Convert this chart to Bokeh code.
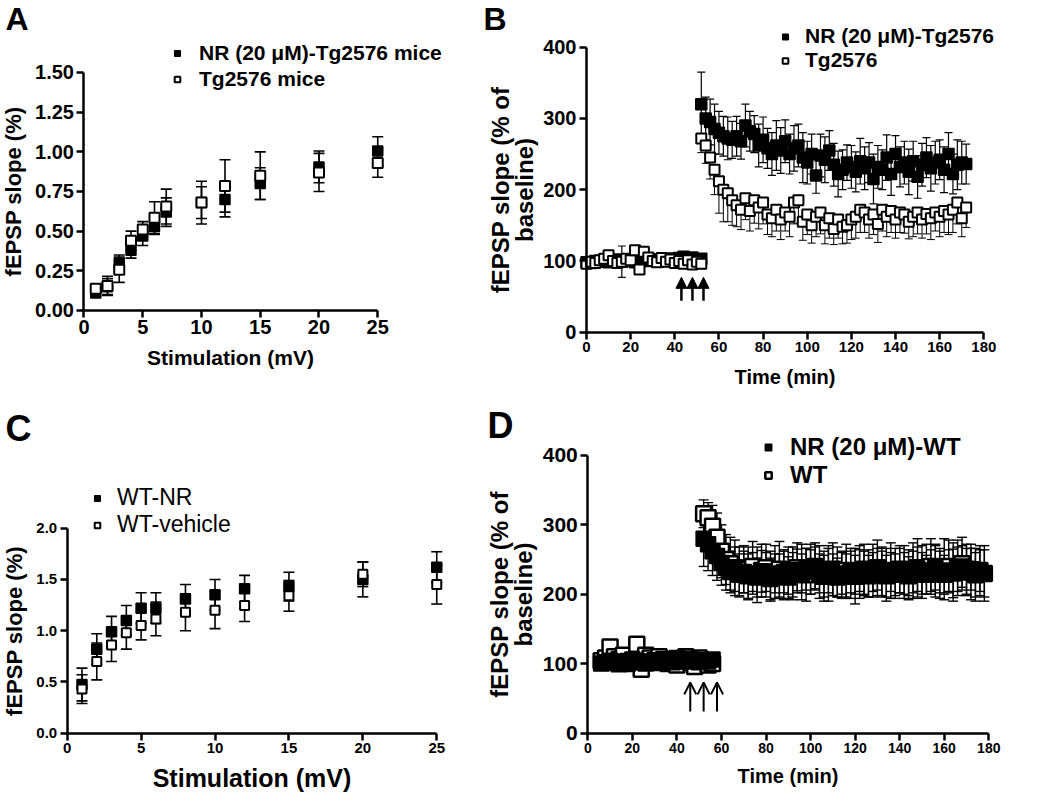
from bokeh.plotting import figure
from bokeh.models import (ColumnDataSource, Whisker, TeeHead, Legend, LegendItem,
                          FixedTicker, Range1d, Label, Arrow, NormalHead, OpenHead,
                          NumeralTickFormatter)
from bokeh.layouts import row, column
from bokeh.embed import file_html
from bokeh.resources import INLINE

FONT = "Liberation Sans"

# ---------------- Panel A data ----------------
stim_A = [1, 2, 3, 4, 5, 6, 7, 10, 12, 15, 20, 25]
A_nr = [0.11, 0.15, 0.30, 0.38, 0.47, 0.53, 0.62, 0.68, 0.70, 0.80, 0.905, 1.005]
A_nr_err = [0.02, 0.05, 0.05, 0.05, 0.06, 0.05, 0.09, 0.10, 0.11, 0.10, 0.10, 0.09]
A_tg = [0.137, 0.155, 0.257, 0.44, 0.51, 0.585, 0.655, 0.68, 0.785, 0.85, 0.87, 0.93]
A_tg_err = [0.02, 0.06, 0.08, 0.06, 0.05, 0.10, 0.11, 0.135, 0.165, 0.15, 0.12, 0.09]
A_xticks = [0, 5, 10, 15, 20, 25]
A_yticks = [0.0, 0.25, 0.5, 0.75, 1.0, 1.25, 1.5]

# ---------------- Panel C data ----------------
stim_C = [1, 2, 3, 4, 5, 6, 8, 10, 12, 15, 20, 25]
C_nr = [0.475, 0.82, 0.99, 1.10, 1.22, 1.22, 1.31, 1.35, 1.41, 1.43, 1.50, 1.62]
C_nr_err = [0.16, 0.15, 0.15, 0.145, 0.15, 0.15, 0.14, 0.15, 0.13, 0.14, 0.17, 0.15]
C_veh = [0.43, 0.70, 0.86, 0.98, 1.05, 1.115, 1.18, 1.20, 1.245, 1.34, 1.55, 1.45]
C_veh_err = [0.14, 0.18, 0.16, 0.16, 0.14, 0.165, 0.18, 0.18, 0.155, 0.15, 0.12, 0.19]
C_xticks = [0, 5, 10, 15, 20, 25]
C_yticks = [0.0, 0.5, 1.0, 1.5, 2.0]

# ---------------- Panel B data ----------------
tB_base = [0, 2, 4, 6, 8, 10, 12, 14, 16, 18, 20, 22, 24, 26, 28, 30, 32, 34, 36,
           38, 40, 42, 44, 46, 48, 50, 52]
B_nr_base = [98, 97, 100, 99, 101, 98, 100, 102, 99, 101, 100, 98, 99, 101, 100,
             102, 99, 101, 100, 103, 101, 104, 106, 102, 105, 101, 103]
B_nr_base_err = [6, 5, 7, 6, 5, 6, 8, 5, 22, 6, 5, 7, 6, 8, 5, 6, 7, 5, 6, 8, 6,
                 5, 7, 6, 5, 7, 6]
B_tg_base = [96, 99, 97, 101, 103, 108, 100, 97, 99, 103, 101, 115, 88, 113, 105,
             100, 98, 104, 99, 102, 97, 100, 96, 101, 95, 99, 96]
B_tg_base_err = [5, 6, 5, 7, 6, 5, 6, 7, 5, 6, 5, 7, 6, 5, 6, 7, 5, 6, 5, 7, 6,
                 5, 6, 7, 5, 6, 5]
tB_post = [52, 54, 56, 58, 60, 62, 64, 66, 68, 70, 72, 74, 76, 78, 80, 82, 84, 86,
           88, 90, 92, 94, 96, 98, 100, 102, 104, 106, 108, 110, 112, 114, 116, 118,
           120, 122, 124, 126, 128, 130, 132, 134, 136, 138, 140, 142, 144, 146, 148,
           150, 152, 154, 156, 158, 160, 162, 164, 166, 168, 170, 172]
B_nr_post = [320, 300, 295, 285, 280, 275, 272, 270, 275, 268, 290, 282, 278, 262,
             270, 258, 250, 262, 255, 268, 250, 258, 262, 245, 238, 250, 220, 248,
             242, 255, 235, 222, 228, 238, 232, 225, 240, 230, 238, 215, 232, 228,
             245, 222, 250, 232, 238, 225, 240, 218, 235, 245, 230, 238, 242, 228,
             250, 222, 235, 238, 236]
B_nr_post_err = [45, 30, 32, 35, 30, 28, 30, 26, 28, 25, 30, 28, 26, 30, 32, 28, 30,
                 35, 32, 30, 28, 32, 30, 35, 30, 28, 25, 30, 32, 28, 30, 32, 28, 25,
                 30, 28, 32, 30, 28, 35, 30, 28, 32, 30, 26, 28, 30, 32, 28, 30, 30,
                 28, 32, 30, 28, 32, 30, 28, 35, 30, 28]
B_tg_post = [272, 262, 245, 228, 212, 200, 195, 185, 178, 172, 188, 170, 185, 175,
             182, 165, 160, 172, 158, 168, 162, 182, 185, 155, 165, 150, 162, 168,
             150, 160, 145, 158, 148, 150, 158, 162, 172, 168, 158, 165, 152, 172,
             162, 170, 158, 168, 165, 155, 162, 168, 158, 166, 160, 168, 162, 170,
             165, 172, 182, 160, 175]
B_tg_post_err = [20, 25, 30, 35, 45, 45, 40, 35, 30, 28, 30, 28, 32, 30, 30, 28, 26,
                 30, 28, 26, 28, 30, 32, 26, 28, 25, 28, 30, 26, 28, 22, 26, 24, 25,
                 28, 30, 32, 28, 26, 28, 26, 30, 28, 30, 26, 28, 26, 24, 28, 30, 26,
                 28, 30, 26, 28, 30, 28, 32, 30, 26, 28]
B_arrow_times = [43, 48, 53]
B_arrow_span = [44, 77]

# ---------------- Panel D data ----------------
tD_base = [6, 8, 10, 12, 14, 16, 18, 20, 22, 24, 26, 28, 30, 32, 34, 36, 38, 40, 42,
           44, 46, 48, 50, 52, 54, 56]
D_nr_base = [100, 102, 104, 101, 99, 103, 100, 106, 104, 102, 100, 103, 105, 101,
             104, 106, 102, 108, 105, 103, 107, 104, 102, 105, 103, 106]
D_nr_base_err = [8, 9, 7, 8, 10, 8, 9, 7, 8, 9, 8, 7, 9, 8, 10, 8, 7, 9, 8, 9, 8, 7,
                 9, 8, 8, 9]
D_wt_base = [104, 108, 124, 110, 106, 112, 103, 100, 128, 92, 112, 108, 102, 110,
             106, 100, 104, 98, 106, 110, 102, 96, 108, 104, 98, 100]
D_wt_base_err = [9, 8, 10, 9, 8, 10, 9, 8, 10, 9, 8, 9, 10, 8, 9, 10, 8, 9, 10, 8,
                 9, 10, 8, 9, 10, 8]
tD_post = [52, 54, 56, 58, 60, 62, 64, 66, 68, 70, 72, 74, 76, 78, 80, 82, 84, 86,
           88, 90, 92, 94, 96, 98, 100, 102, 104, 106, 108, 110, 112, 114, 116, 118,
           120, 122, 124, 126, 128, 130, 132, 134, 136, 138, 140, 142, 144, 146, 148,
           150, 152, 154, 156, 158, 160, 162, 164, 166, 168, 170, 172, 174, 176, 178]
D_nr_post = [280, 272, 262, 255, 245, 238, 232, 236, 228, 232, 226, 230, 224, 233,
             228, 222, 230, 226, 232, 224, 228, 235, 230, 236, 232, 238, 230, 226,
             234, 228, 224, 230, 226, 232, 228, 234, 230, 226, 232, 236, 230, 226,
             232, 228, 234, 230, 226, 232, 236, 230, 228, 234, 238, 232, 228, 234,
             230, 236, 240, 232, 236, 228, 234, 230]
D_nr_post_err = [40, 38, 35, 35, 32, 32, 30, 32, 30, 30, 32, 30, 28, 30, 32, 30, 28,
                 32, 30, 30, 32, 30, 28, 30, 32, 30, 28, 30, 32, 30, 28, 30, 32, 30,
                 28, 30, 32, 30, 28, 30, 32, 30, 28, 30, 32, 30, 28, 30, 32, 30, 28,
                 30, 32, 30, 28, 30, 35, 32, 30, 34, 30, 32, 30, 34]
D_wt_post = [316, 310, 298, 282, 262, 250, 244, 238, 232, 236, 230, 240, 228, 234,
             238, 226, 232, 236, 228, 234, 230, 238, 232, 228, 236, 240, 232, 226,
             230, 236, 232, 228, 234, 230, 226, 232, 236, 230, 234, 238, 232, 228,
             234, 230, 236, 232, 228, 234, 238, 232, 236, 240, 234, 230, 236, 240,
             232, 238, 244, 236, 232, 228, 234, 230]
D_wt_post_err = [20, 22, 30, 35, 38, 36, 38, 40, 36, 34, 38, 36, 40, 38, 34, 36, 38,
                 40, 36, 34, 38, 36, 40, 38, 36, 34, 38, 36, 40, 38, 36, 34, 38, 36,
                 40, 38, 36, 34, 38, 40, 36, 38, 40, 36, 34, 38, 36, 40, 42, 38, 36,
                 40, 38, 36, 44, 38, 42, 40, 38, 36, 40, 38, 36, 40]
D_arrow_times = [46, 52, 58]
D_arrow_span = [31, 73]

time_xticks = [0, 20, 40, 60, 80, 100, 120, 140, 160, 180]
time_yticks = [0, 100, 200, 300, 400]


def make_fig(w, h, xr, yr):
    # the frame fills the whole canvas; axes are pinned at x=0 / y=0
    p = figure(width=w, height=h, output_backend="svg", toolbar_location=None,
               x_range=Range1d(*xr), y_range=Range1d(*yr), min_border=0)
    p.title.visible = False
    p.outline_line_color = None
    p.grid.visible = False
    p.background_fill_color = "white"
    p.border_fill_color = "white"
    return p


def style_axes(p, xticks, yticks, xbounds, ybounds, xlab, ylab, xtick_fs, ytick_fs,
               xlab_fs, ylab_fs, xstand, ystand, yfmt=None, ylh=1.2):
    for ax in (p.xaxis[0], p.yaxis[0]):
        ax.axis_line_width = 2.5
        ax.axis_line_color = "black"
        ax.major_tick_line_width = 2.5
        ax.major_tick_line_color = "black"
        ax.major_tick_in = 0
        ax.major_tick_out = 7
        ax.minor_tick_line_color = None
        ax.major_label_text_font = FONT
        ax.major_label_text_font_style = "bold"
        ax.major_label_text_color = "black"
        ax.axis_label_text_font = FONT
        ax.axis_label_text_font_style = "bold"
        ax.axis_label_text_color = "black"
        ax.major_label_standoff = 3
    xa, ya = p.xaxis[0], p.yaxis[0]
    xa.fixed_location = 0
    ya.fixed_location = 0
    xa.ticker = FixedTicker(ticks=xticks)
    ya.ticker = FixedTicker(ticks=yticks)
    xa.bounds = xbounds
    ya.bounds = ybounds
    xa.axis_label = xlab
    ya.axis_label = ylab
    xa.major_label_text_font_size = xtick_fs
    ya.major_label_text_font_size = ytick_fs
    xa.axis_label_text_font_size = xlab_fs
    ya.axis_label_text_font_size = ylab_fs
    ya.axis_label_text_line_height = ylh
    xa.axis_label_standoff = xstand
    ya.axis_label_standoff = ystand
    if yfmt:
        ya.formatter = NumeralTickFormatter(format=yfmt)


def whisker(p, x, y, err, cap, lw=1.6, lower_only=False):
    upper = [v if lower_only else v + e for v, e in zip(y, err)]
    lower = [v - e for v, e in zip(y, err)]
    src = ColumnDataSource(dict(base=x, upper=upper, lower=lower))
    w = Whisker(source=src, base="base", upper="upper", lower="lower",
                dimension="height", line_color="black", line_width=lw,
                upper_head=None if lower_only else TeeHead(size=cap, line_width=lw, line_color="black"),
                lower_head=TeeHead(size=cap, line_width=lw, line_color="black"),
                level="underlay")
    p.add_layout(w)


def add_legend(p, items, loc, fs, style, gw, gh, standoff):
    lg = Legend(items=items, location=loc, orientation="vertical",
                background_fill_alpha=0, border_line_color=None, padding=0,
                margin=0, spacing=0, glyph_width=gw, glyph_height=gh,
                label_height=gh, label_standoff=standoff,
                label_text_font=FONT, label_text_font_size=fs,
                label_text_font_style=style, label_text_color="black")
    p.add_layout(lg)


def panel_letter(p, text, x, y, fs):
    p.add_layout(Label(x=x, y=y, text=text, text_font=FONT, text_font_size=fs,
                       text_font_style="bold", text_color="black",
                       text_baseline="middle", text_align="left"))


# ---------------- Panel A ----------------
pA = make_fig(480, 398, (-7.106, 33.745), (-0.5546, 1.9537))
style_axes(pA, A_xticks, A_yticks, (0, 25), (0, 1.5), "Stimulation (mV)",
           "fEPSP slope (%)", "20px", "20px", "21px", "22px", 8, 6, "0.00")
whisker(pA, stim_A, A_nr, A_nr_err, 11)
whisker(pA, stim_A, A_tg, A_tg_err, 11)
rA1 = pA.scatter(stim_A, A_nr, marker="square", size=10, fill_color="black",
                 line_color="black", line_width=1.5)
rA2 = pA.scatter(stim_A, A_tg, marker="square", size=10, fill_color="white",
                 line_color="black", line_width=2)
add_legend(pA, [LegendItem(label="NR (20 \u03bcM)-Tg2576 mice", renderers=[rA1]),
                LegendItem(label="Tg2576 mice", renderers=[rA2])],
           (170, 306), "21px", "bold", 14, 26, 15)
panel_letter(pA, "A", -6.68, 1.834, "32px")

# ---------------- Panel B ----------------
pB = make_fig(568, 398, (-48.02, 209.3), (-93.05, 465.5))
style_axes(pB, time_xticks, time_yticks, (0, 180), (0, 400), "Time (min)",
           "fEPSP slope (% of\nbaseline)", "15px", "20px", "20px", "24px", 10, 2, ylh=0.9)
whisker(pB, tB_base + tB_post, B_nr_base + B_nr_post, B_nr_base_err + B_nr_post_err, 8, 1.2)
whisker(pB, tB_base + tB_post, B_tg_base + B_tg_post, B_tg_base_err + B_tg_post_err, 8, 1.0,
        lower_only=True)
rB1 = pB.scatter(tB_base + tB_post, B_nr_base + B_nr_post, marker="square", size=11,
                 fill_color="black", line_color="black", line_width=1.5)
rB2 = pB.scatter(tB_base + tB_post, B_tg_base + B_tg_post, marker="square", size=10,
                 fill_color="white", line_color="black", line_width=2)
for t in B_arrow_times:
    pB.add_layout(Arrow(x_start=t, y_start=B_arrow_span[0], x_end=t, y_end=B_arrow_span[1],
                        line_width=2.5, line_color="black",
                        end=NormalHead(size=11, fill_color="black", line_color="black")))
add_legend(pB, [LegendItem(label="NR (20 \u03bcM)-Tg2576", renderers=[rB1]),
                LegendItem(label="Tg2576", renderers=[rB2])],
           (298, 326), "21px", "bold", 14, 23, 13)
panel_letter(pB, "B", -46.66, 438.9, "32px")

# ---------------- Panel C ----------------
pC = make_fig(480, 394, (-4.513, 27.96), (-0.5785, 3.265))
style_axes(pC, C_xticks, C_yticks, (0, 25), (0, 2.0), "Stimulation (mV)",
           "fEPSP slope (%)", "15px", "15px", "25px", "22px", 7, 7, "0.0")
whisker(pC, stim_C, C_nr, C_nr_err, 11)
whisker(pC, stim_C, C_veh, C_veh_err, 11)
rC1 = pC.scatter(stim_C, C_nr, marker="square", size=10, fill_color="black",
                 line_color="black", line_width=1.5)
rC2 = pC.scatter(stim_C, C_veh, marker="square", size=9, fill_color="white",
                 line_color="black", line_width=2)
add_legend(pC, [LegendItem(label="WT-NR", renderers=[rC1]),
                LegendItem(label="WT-vehicle", renderers=[rC2])],
           (90, 254), "23px", "normal", 14, 24, 13)
panel_letter(pC, "C", -4.17, 2.968, "36px")

# ---------------- Panel D ----------------
pD = make_fig(568, 394, (-48.16, 206.8), (-85.7, 482.0))
style_axes(pD, time_xticks, time_yticks, (0, 180), (0, 400), "Time (min)",
           "fEPSP slope (% of\nbaseline)", "14px", "21px", "20px", "24px", 8, 2, ylh=0.9)
whisker(pD, tD_base + tD_post, D_wt_base + D_wt_post, D_wt_base_err + D_wt_post_err, 10, 1.4)
whisker(pD, tD_base + tD_post, D_nr_base + D_nr_post, D_nr_base_err + D_nr_post_err, 10, 1.4)
rD2 = pD.scatter(tD_base + tD_post, D_wt_base + D_wt_post, marker="square", size=15,
                 fill_color="white", line_color="black", line_width=2.5)
rD1 = pD.scatter(tD_base + tD_post, D_nr_base + D_nr_post, marker="square", size=15,
                 fill_color="black", line_color="black", line_width=1.5)
for t in D_arrow_times:
    pD.add_layout(Arrow(x_start=t, y_start=D_arrow_span[0], x_end=t, y_end=D_arrow_span[1],
                        line_width=2, line_color="black",
                        end=OpenHead(size=12, line_width=2, line_color="black")))
add_legend(pD, [LegendItem(label="NR (20 \u03bcM)-WT", renderers=[rD1]),
                LegendItem(label="WT", renderers=[rD2])],
           (280, 303), "24px", "bold", 16, 26, 14)
panel_letter(pD, "D", -45.0, 443.8, "36px")

layout = column(row(pA, pB), row(pC, pD))
open("out.html", "w").write(file_html(layout, INLINE))
